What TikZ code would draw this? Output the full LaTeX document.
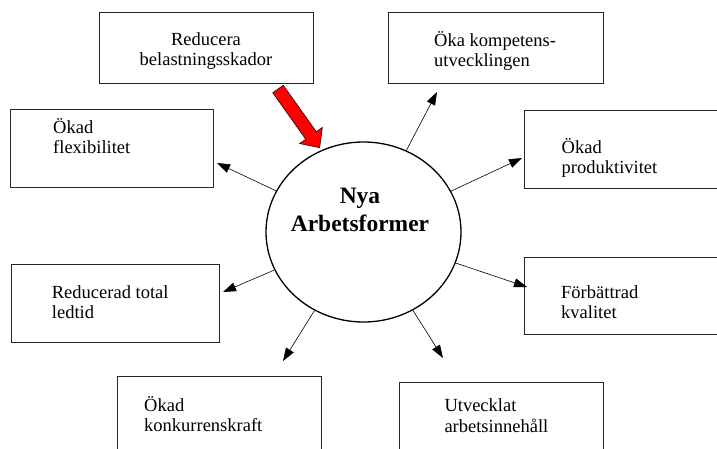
\documentclass[tikz,border=0pt]{standalone}
\usepackage{fontspec}
\setmainfont{Liberation Serif}
\usetikzlibrary{arrows.meta,shapes.geometric}
\begin{document}
\begin{tikzpicture}[x=1pt,y=-1pt,
  box/.style={draw=black!85, line width=0.8pt, rectangle, inner sep=0pt},
  lbl/.style={anchor=base west, inner sep=0pt, font=\fontsize{18.5}{20}\selectfont},
  clbl/.style={anchor=base, inner sep=0pt, font=\fontsize{18.5}{20}\selectfont},
  blbl/.style={anchor=base, inner sep=0pt, font=\fontsize{23.5}{28}\selectfont\bfseries},
  conn/.style={line width=0.6pt, -{Triangle[length=13pt,width=9pt]}}]
\useasboundingbox (0,0) rectangle (717,448);

% boxes
\node[box, minimum width=214pt, minimum height=71pt] (b1) at (206,47.5) {};
\node[box, minimum width=203pt, minimum height=78pt] (b2) at (111.5,148) {};
\node[box, minimum width=215pt, minimum height=71pt] (b3) at (495.5,47.5) {};
\node[box, minimum width=196pt, minimum height=78pt] (b4) at (622,149) {};
\node[box, minimum width=208pt, minimum height=78pt] (b5) at (115,303) {};
\node[box, minimum width=204pt, minimum height=74pt] (b6) at (219,413) {};
\node[box, minimum width=196pt, minimum height=77pt] (b7) at (622,295.5) {};
\node[box, minimum width=204pt, minimum height=68pt] (b8) at (501,416) {};

% texts
\node[clbl] (t1a) at (206,45.5) {Reducera};
\node[clbl] (t1b) at (206,65.5) {belastningsskador};
\node[lbl] (t2a) at (53,133) {Ökad};
\node[lbl] (t2b) at (53,153) {flexibilitet};
\node[lbl] (t3a) at (434,46.5) {Öka kompetens-};
\node[lbl] (t3b) at (434,66) {utvecklingen};
\node[lbl] (t4a) at (561.5,153.3) {Ökad};
\node[lbl] (t4b) at (561.5,173.3) {produktivitet};
\node[lbl] (t5a) at (51.7,298.3) {Reducerad total};
\node[lbl] (t5b) at (51.7,318.3) {ledtid};
\node[lbl] (t6a) at (144,411.7) {Ökad};
\node[lbl] (t6b) at (144,431.7) {konkurrenskraft};
\node[lbl] (t7a) at (561,298.3) {Förbättrad};
\node[lbl] (t7b) at (561,318.3) {kvalitet};
\node[lbl] (t8a) at (444.3,411.7) {Utvecklat};
\node[lbl] (t8b) at (444.3,432.3) {arbetsinnehåll};

% centre
\node[ellipse, draw, line width=1.3pt, minimum width=195pt, minimum height=180pt, inner sep=0pt] (c) at (363.5,232) {};
\node[blbl] (ca) at (360,203.3) {Nya};
\node[blbl] (cb) at (360,231.7) {Arbetsformer};

% arrow tips
\coordinate (p2) at (217,163);
\coordinate (p3) at (437,92);
\coordinate (p4) at (522,158);
\coordinate (p5) at (223,292);
\coordinate (p6) at (283,361);
\coordinate (p7) at (527,287);
\coordinate (p8) at (443,358);

\draw[conn] (c) -- (p2);
\draw[conn] (c) -- (p3);
\draw[conn] (c) -- (p4);
\draw[conn] (c) -- (p5);
\draw[conn] (c) -- (p6);
\draw[conn] (c) -- (p7);
\draw[conn] (c) -- (p8);

% red block arrow
\begin{scope}[shift={(278,89)}, rotate=-54.6]
\filldraw[fill=red, draw=black, line width=0.5pt] (0,6.5) -- (57,6.5) -- (57,14) -- (72,0) -- (57,-14) -- (57,-6.5) -- (0,-6.5) -- cycle;
\end{scope}
\end{tikzpicture}
\end{document}
